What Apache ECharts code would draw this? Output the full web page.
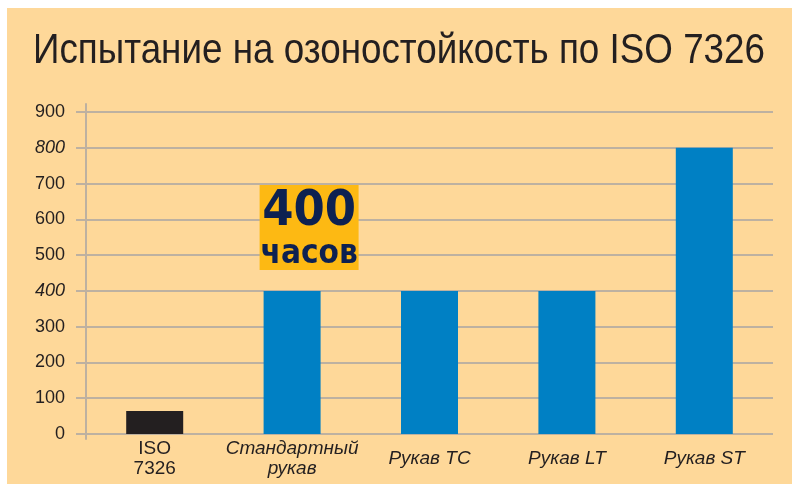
<!DOCTYPE html>
<html>
<head>
	<meta charset="utf-8">
	<title></title>
	<style type="text/css">
		html, body {
			margin: 0;
			padding: 0;
			background: #ffffff;
		}
		#main {
			position: absolute;
			left: 7px;
			top: 8px;
			width: 785px;
			height: 476px;
		}
	</style>
	<script src='https://cdn.jsdelivr.net/npm/echarts@6/dist/echarts.min.js'></script>
</head>
<body>

	<div id="main"></div>

	<script type="text/javascript">
		var titleText = 'Испытание на озоностойкость по ISO 7326';
		var categories = ['ISO\n7326', 'Стандартный\nрукав', 'Рукав TC', 'Рукав LT', 'Рукав ST'];
		var hours = [64, 400, 400, 400, 800];
		var barColors = ['#231f20', '#0080c4', '#0080c4', '#0080c4', '#0080c4'];
		var italicTicks = [400, 800];
		var badgeText = ['400', 'часов'];

		var gridColor = '#bdb1a1';
		var textColor = '#231f20';

		var chart = echarts.init(document.getElementById('main'));

		// squeeze the title into a condensed look (no condensed Helvetica here)
		var titleFont = 'normal 43px "Liberation Sans"';
		var ctx = document.createElement('canvas').getContext('2d');
		ctx.font = titleFont;
		var titleScale = 732 / ctx.measureText(titleText).width;

		var catData = categories.map(function (c, i) {
			var oneLine = c.indexOf('\n') < 0;
			return {
				value: c,
				textStyle: {
					fontStyle: i === 0 ? 'normal' : 'italic',
					// single-line names sit centred against the two-line ones
					padding: oneLine ? [10, 0, 0, 0] : 0
				}
			};
		});

		var barData = hours.map(function (v, i) {
			var item = { value: v, itemStyle: { color: barColors[i] } };
			if (i === 1) {
				// the "400 часов" badge above the standard hose
				item.label = {
					show: true,
					position: 'top',
					distance: 21,
					offset: [17, 0],
					formatter: '{a|' + badgeText[0] + '}\n{b|' + badgeText[1] + '}',
					backgroundColor: '#fdb913',
					width: 99,
					height: 85,
					align: 'center',
					padding: 0,
					rich: {
						a: {
							fontFamily: 'DejaVu Sans Condensed',
							fontWeight: 'bold',
							fontSize: 50,
							lineHeight: 55,
							color: '#0d2151',
							align: 'center'
						},
						b: {
							fontFamily: 'DejaVu Sans Condensed',
							fontWeight: 'bold',
							fontSize: 33,
							lineHeight: 30,
							color: '#0d2151',
							align: 'center'
						}
					}
				};
			}
			return item;
		});

		var option = {
			backgroundColor: '#fed899',
			animation: false,
			graphic: [{
				type: 'text',
				left: 26,
				top: 22,
				scaleX: titleScale,
				style: {
					text: titleText,
					font: titleFont,
					fill: textColor
				}
			}],
			grid: [
				{ left: 79, right: 19, top: 104, bottom: 50, outerBoundsMode: 'none' },
				{ left: 79, right: 19, top: 96, bottom: 45, outerBoundsMode: 'none' }
			],
			xAxis: [{
				type: 'category',
				gridIndex: 0,
				data: catData,
				axisLine: { show: false },
				axisTick: { show: false },
				axisLabel: {
					fontFamily: 'Liberation Sans',
					fontSize: 19,
					lineHeight: 20,
					color: textColor,
					margin: 5,
					interval: 0
				}
			}, {
				type: 'value',
				gridIndex: 1,
				show: false
			}],
			yAxis: [{
				type: 'value',
				gridIndex: 0,
				min: 0,
				max: 900,
				interval: 100,
				axisLine: { show: false },
				axisTick: {
					show: true,
					length: 10,
					lineStyle: { color: gridColor, width: 2 }
				},
				splitLine: {
					lineStyle: { color: gridColor, width: 2 }
				},
				axisLabel: {
					fontFamily: 'Liberation Sans',
					fontSize: 18,
					color: textColor,
					margin: 21,
					formatter: function (v) {
						return italicTicks.indexOf(v) >= 0 ? '{i|' + v + '}' : String(v);
					},
					rich: {
						i: {
							fontFamily: 'Liberation Sans',
							fontSize: 18,
							fontStyle: 'italic',
							color: textColor
						}
					}
				}
			}, {
				// vertical axis line, slightly longer than the value range
				type: 'value',
				gridIndex: 1,
				min: 0,
				max: 1,
				axisLine: { show: true, lineStyle: { color: gridColor, width: 2 } },
				axisTick: { show: false },
				axisLabel: { show: false },
				splitLine: { show: false }
			}],
			series: [{
				type: 'bar',
				xAxisIndex: 0,
				yAxisIndex: 0,
				barWidth: 57,
				data: barData
			}]
		};

		chart.setOption(option);
	</script>
</body>
</html>
